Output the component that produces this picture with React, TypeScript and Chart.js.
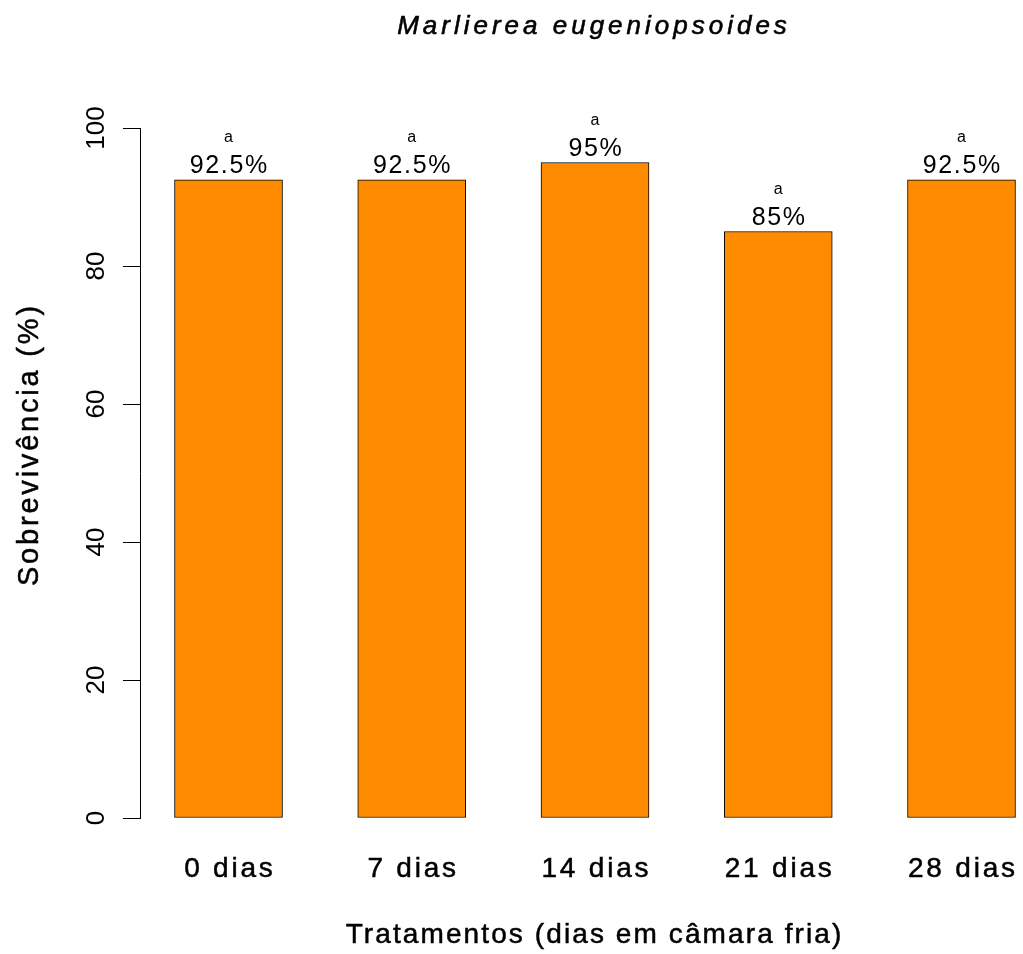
import React, { useEffect, useRef } from "react";
import { Chart, registerables } from "chart.js";

Chart.register(...registerables);

const chartTitle = "Marlierea eugeniopsoides";
const categories = ["0 dias", "7 dias", "14 dias", "21 dias", "28 dias"];
const survival = [92.5, 92.5, 95, 85, 92.5];
const valueLabels = ["92.5%", "92.5%", "95%", "85%", "92.5%"];
const groupLetters = ["a", "a", "a", "a", "a"];
const yTicks = [0, 20, 40, 60, 80, 100];
const xTitle = "Tratamentos (dias em câmara fria)";
const yTitle = "Sobrevivência (%)";

const FONT = '"Liberation Sans", Arial, Helvetica, sans-serif';

function drawText(
  ctx: CanvasRenderingContext2D,
  text: string,
  x: number,
  y: number,
  font: string,
  spacing: number,
  rotate = 0,
  stroke = 0
) {
  ctx.save();
  ctx.font = font;
  (ctx as any).letterSpacing = "0px";
  const base = ctx.measureText(text).width;
  const w = base + spacing * (text.length - 1);
  (ctx as any).letterSpacing = spacing + "px";
  ctx.fillStyle = "#000";
  ctx.strokeStyle = "#000";
  ctx.textBaseline = "alphabetic";
  ctx.textAlign = "left";
  ctx.translate(x, y);
  ctx.rotate(rotate);
  ctx.fillText(text, -w / 2, 0);
  if (stroke > 0) {
    ctx.lineWidth = stroke;
    ctx.strokeText(text, -w / 2, 0);
  }
  ctx.restore();
}

const textPlugin = {
  id: "rStyleText",
  afterDraw(chart: any) {
    const ctx: CanvasRenderingContext2D = chart.ctx;
    const xs = chart.scales.x;
    const ys = chart.scales.y;
    // title
    drawText(ctx, chartTitle, 592, 34, `italic 26px ${FONT}`, 4.0, 0, 0.6);
    // y tick labels (rotated)
    yTicks.forEach((v) =>
      drawText(ctx, String(v), 104, ys.getPixelForValue(v), `26px ${FONT}`, 0, -Math.PI / 2)
    );
    // y title
    drawText(ctx, yTitle, 38, 446, `29px ${FONT}`, 2.8, -Math.PI / 2, 0.5);
    // x category labels
    categories.forEach((c, i) =>
      drawText(ctx, c, xs.getPixelForValue(i), 877, `28px ${FONT}`, 2.8, 0, 0.5)
    );
    // x title
    drawText(ctx, xTitle, 593.5, 943, `28px ${FONT}`, 2.1, 0, 0.5);
    // bar labels
    const meta = chart.getDatasetMeta(0);
    meta.data.forEach((bar: any, i: number) => {
      drawText(ctx, valueLabels[i], bar.x, bar.y - 7, `25px ${FONT}`, 1.6);
      drawText(ctx, groupLetters[i], bar.x, bar.y - 38, `16px ${FONT}`, 0);
    });
  },
};

export default function App() {
  const canvasRef = useRef<HTMLCanvasElement | null>(null);

  useEffect(() => {
    document.body.style.margin = "0";
    const canvas = canvasRef.current;
    if (!canvas) return;
    const chart = new Chart(canvas, {
      type: "bar",
      data: {
        datasets: [
          {
            data: survival.map((v, i) => ({ x: i, y: v })),
            backgroundColor: "#FF8C00",
            borderColor: "#000000",
            borderWidth: 1,
            borderSkipped: false,
            barThickness: 108,
          },
        ],
      },
      options: {
        responsive: false,
        animation: false,
        events: [],
        layout: { padding: { left: 0, right: 0, top: 128, bottom: 136 } },
        plugins: {
          legend: { display: false },
          title: { display: false },
          tooltip: { enabled: false },
        },
        scales: {
          x: {
            type: "linear",
            display: false,
            offset: false,
            grid: { offset: false },
            min: -0.483,
            max: 4.3356,
          },
          y: {
            min: 0,
            max: 100,
            afterFit: (s: any) => {
              s.width = 140;
            },
            afterBuildTicks: (axis: any) => {
              axis.ticks = yTicks.map((v) => ({ value: v }));
            },
            ticks: { display: false },
            grid: {
              drawOnChartArea: false,
              drawTicks: true,
              tickLength: 17,
              color: "#000",
              tickColor: "#000",
              lineWidth: 1,
            },
            border: { display: true, color: "#000", width: 1 },
          },
        },
      } as any,
      plugins: [textPlugin],
    });
    return () => chart.destroy();
  }, []);

  return (
    <div style={{ width: 1023, height: 954, background: "#fff" }}>
      <canvas ref={canvasRef} width={1023} height={954} style={{ display: "block" }} />
    </div>
  );
}
